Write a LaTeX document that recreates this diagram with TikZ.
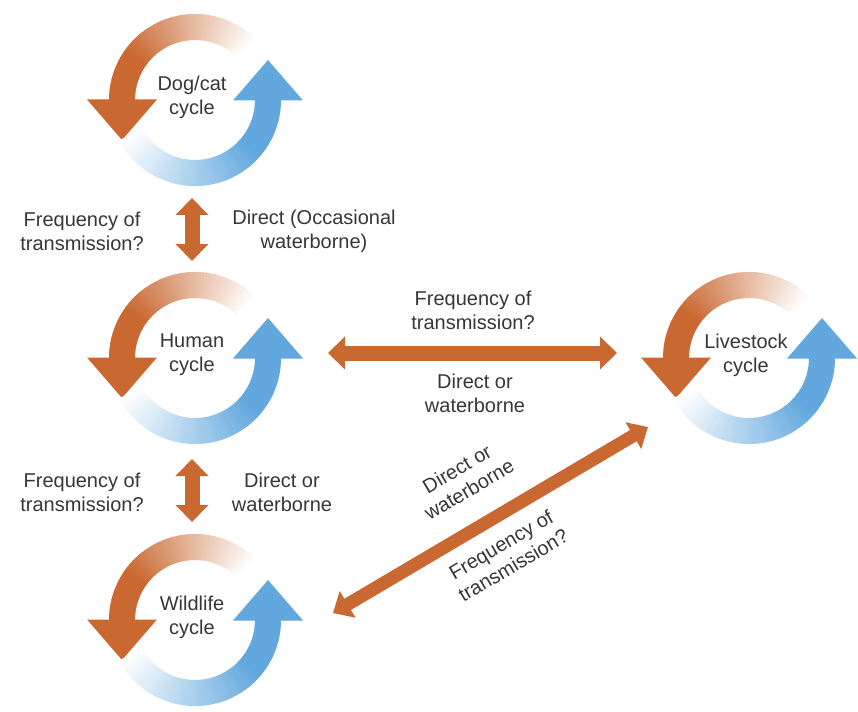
\documentclass[tikz,border=0pt]{standalone}
\usepackage{fontspec}
\setmainfont{Liberation Sans}
\usetikzlibrary{arrows.meta}
\definecolor{corange}{RGB}{201,104,48}
\definecolor{cblue}{RGB}{98,168,222}
\definecolor{ctext}{RGB}{55,55,55}
\tikzset{
  lbl/.style={text=ctext, align=center, font=\fontsize{20}{24}\selectfont, inner sep=0pt},
  dbl/.style={draw=corange, line width=15pt, {Triangle[width=32pt,length=17pt]}-{Triangle[width=32pt,length=17pt]}},
  dbld/.style={draw=corange, line width=13pt, {Triangle[width=30pt,length=17pt]}-{Triangle[width=30pt,length=17pt]}},
}
\newcommand{\cyclering}[4]{% cx, cy (pixel), name, label
  \begin{scope}[shift={(#1,-#2)}]
    \foreach \a in {44,46,...,178} {
      \pgfmathtruncatemacro{\p}{min(100,max(0,(\a-44)*100/100))}
      \fill[corange!\p!white] (\a:60) arc[start angle=\a, end angle=\a+2.6, radius=60]
        -- (\a+2.6:86) arc[start angle=\a+2.6, end angle=\a, radius=86] -- cycle;
    }
    \fill[corange] (-108,0.5) -- (-38,0.5) -- (-73,-40) -- cycle;
    \foreach \a in {208,210,...,358} {
      \pgfmathtruncatemacro{\p}{min(100,max(0,(\a-208)*100/110))}
      \fill[cblue!\p!white] (\a:60) arc[start angle=\a, end angle=\a+2.6, radius=60]
        -- (\a+2.6:86) arc[start angle=\a+2.6, end angle=\a, radius=86] -- cycle;
    }
    \fill[cblue] (38,-0.5) -- (108,-0.5) -- (73,40) -- cycle;
    \node[lbl] (#3) at (-3,3) {#4};
  \end{scope}}
\begin{document}
\begin{tikzpicture}[x=1pt,y=1pt]
  \fill[white] (0,0) rectangle (858,-711);
  \useasboundingbox (0,0) rectangle (858,-711);
  \cyclering{195}{100}{dog}{Dog/cat\\cycle}
  \cyclering{195}{358}{human}{Human\\cycle}
  \cyclering{195}{620}{wild}{Wildlife\\cycle}
  \cyclering{749}{358}{live}{Livestock\\cycle}
  % connector end points
  \coordinate (a1) at (192,-198);
  \coordinate (a2) at (192,-261);
  \coordinate (b1) at (192,-459);
  \coordinate (b2) at (192,-522);
  \coordinate (c1) at (328,-353);
  \coordinate (c2) at (617,-353);
  \coordinate (d1) at (333,-613);
  \coordinate (d2) at (648,-427);
  \draw[dbl] (a1) -- (a2);
  \draw[dbl] (b1) -- (b2);
  \draw[dbl] (c1) -- (c2);
  \draw[dbld] (d1) -- (d2);
  % labels
  \node[lbl] (t1) at (82,-231) {Frequency of\\transmission?};
  \node[lbl] (t2) at (314,-231) {Direct (Occasional\\waterborne)};
  \node[lbl] (t3) at (82,-492) {Frequency of\\transmission?};
  \node[lbl] (t4) at (282,-492) {Direct or\\waterborne};
  \node[lbl] (t5) at (473,-310) {Frequency of\\transmission?};
  \node[lbl] (t6) at (475,-393) {Direct or\\waterborne};
  \node[lbl, rotate=30.5] (t7) at (463,-479) {Direct or\\waterborne};
  \node[lbl, rotate=30.5] (t8) at (507,-555) {Frequency of\\transmission?};
\end{tikzpicture}
\end{document}
